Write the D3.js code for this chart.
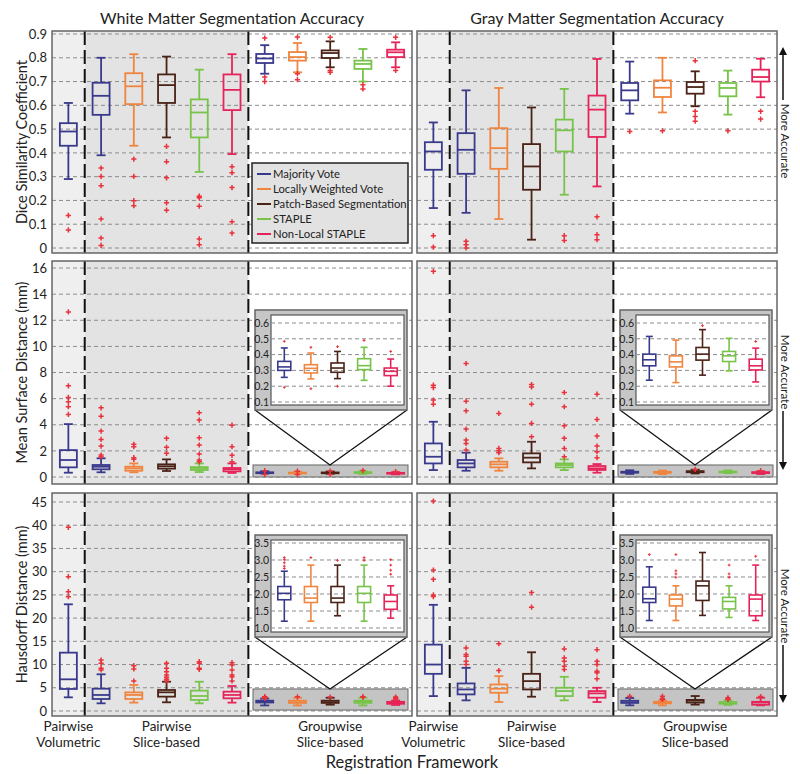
<!DOCTYPE html>
<html><head><meta charset="utf-8">
<script src="https://cdn.jsdelivr.net/npm/d3@7"></script>
<style>body{margin:0;background:#fff}svg{display:block}text{font-family:Lato,"Open Sans",sans-serif;fill:#222}</style>
</head><body><svg id="c" width="800" height="774"></svg>
<script>
// ---------- DATA ----------
const methods = ["Majority Vote","Locally Weighted Vote","Patch-Based Segmentation","STAPLE","Non-Local STAPLE"];
const tissues = ["White Matter Segmentation Accuracy","Gray Matter Segmentation Accuracy"];
const frameworks = [["Pairwise","Volumetric"],["Pairwise","Slice-based"],["Groupwise","Slice-based"]];
const metricTitles = ["Dice Similarity Coefficient","Mean Surface Distance (mm)","Hausdorff Distance (mm)"];
const xAxisTitle = "Registration Framework";
const accuracyLabel = "More Accurate";
// slot -> method index (slot 0: pairwise volumetric, 1-5 pairwise slice, 6-10 groupwise slice)
const slotMethod = [0,0,1,2,3,4,0,1,2,3,4];
// box stats: [lowWhisker, q1, median, q3, highWhisker]
const diceWM = [[0.29,0.43,0.49,0.525,0.61],[0.39,0.56,0.64,0.695,0.80],[0.43,0.605,0.68,0.735,0.815],[0.465,0.61,0.685,0.73,0.805],[0.32,0.465,0.57,0.625,0.75],[0.395,0.58,0.665,0.73,0.815],
  [0.733,0.778,0.797,0.816,0.853],[0.739,0.788,0.803,0.824,0.862],[0.76,0.799,0.82,0.831,0.869],[0.70,0.753,0.774,0.788,0.837],[0.76,0.803,0.823,0.834,0.865]];
const diceWMOut = [[0.137,0.076],[0.336,0.301,0.262,0.122,0.042,0.011],[0.374,0.301,0.199,0.178],[0.427,0.363,0.295,0.19,0.159],[0.218,0.211,0.176,0.038,0.014],[0.342,0.317,0.254,0.11,0.063],
  [0.883,0.719,0.70],[0.887,0.733,0.708],[0.886,0.746,0.739],[0.687,0.669],[0.886,0.747]];
const diceGM = [[0.168,0.329,0.406,0.445,0.528],[0.148,0.312,0.413,0.483,0.663],[0.122,0.333,0.42,0.504,0.673],[0.035,0.245,0.343,0.437,0.591],[0.224,0.406,0.495,0.54,0.669],[0.259,0.467,0.582,0.641,0.795],
  [0.565,0.621,0.663,0.694,0.784],[0.57,0.635,0.674,0.705,0.80],[0.596,0.649,0.677,0.698,0.743],[0.561,0.638,0.673,0.694,0.746],[0.634,0.70,0.719,0.75,0.796]];
const diceGMOut = [[0.052,0.004],[0.028,0.014,0.0],[],[],[0.052,0.032],[0.131,0.056,0.035],
  [0.49],[0.493],[0.788,0.575,0.553,0.533],[0.493],[0.575,0.542]];
const msdWM = [[0.33,0.74,1.3,2.06,4.05],[0.36,0.59,0.79,0.92,1.43],[0.36,0.48,0.66,0.79,1.04],[0.46,0.64,0.82,0.97,1.35],[0.38,0.54,0.69,0.76,1.04],[0.31,0.43,0.59,0.69,1.04],
  [0.256,0.30,0.322,0.357,0.442],[0.246,0.284,0.313,0.336,0.41],[0.248,0.288,0.315,0.347,0.42],[0.237,0.305,0.33,0.374,0.446],[0.2,0.267,0.294,0.315,0.372]];
const msdWMOut = [[12.64,6.98,6.09,5.76,5.38,4.79],[5.3,4.66,3.52,2.88,2.37,1.68,1.55],[2.5,2.32,1.48,1.35],[2.96,2.27,1.81],[4.92,4.36,3.0,2.45,1.76,1.3,1.17],[3.97,2.32,1.66,1.17],
  [0.484,0.193],[0.446,0.184],[0.45,0.2],[0.49],[0.42]];
const msdGM = [[0.53,1.04,1.55,2.57,4.23],[0.48,0.74,1.04,1.3,1.86],[0.48,0.74,0.97,1.17,1.43],[0.66,1.12,1.48,1.81,2.70],[0.53,0.74,0.92,1.04,1.35],[0.33,0.54,0.66,0.84,0.99],
  [0.238,0.329,0.367,0.403,0.515],[0.223,0.322,0.354,0.392,0.492],[0.27,0.365,0.403,0.445,0.558],[0.297,0.356,0.392,0.42,0.503],[0.227,0.303,0.329,0.371,0.441]];
const msdGMOut = [[15.75,7.03,6.85,5.89,5.58],[8.69,5.81,5.07,3.67,2.83,2.57,2.06],[4.87,2.19,2.01,1.86],[7.08,6.9,5.58,4.1,3.08],[6.47,5.38,3.92,2.96,2.19,1.55],[6.34,4.41,3.13,2.37,1.94,1.48],
  [],[],[0.583],[],[0.483]];
const hdWM = [[2.94,4.74,6.82,12.56,22.97],[1.65,2.58,3.45,4.8,7.9],[1.8,2.58,3.45,4.0,5.6],[1.87,3.09,4.02,4.52,6.3],[1.65,2.37,3.23,4.38,6.3],[1.8,2.73,3.45,4.16,5.38],
  [1.2,1.83,2.02,2.22,2.67],[1.2,1.75,1.88,2.22,2.85],[1.36,1.75,1.88,2.22,2.85],[1.2,1.75,2.02,2.22,2.85],[1.29,1.55,1.78,1.97,2.24]];
const hdWMOut = [[39.55,28.93,25.7,24.6],[10.98,10.27,9.19,8.83],[9.76,9.05,6.46],[10.27,9.19,8.47,7.75,7.25,6.82,6.46],[10.62,10.27,9.19,8.97],[10.41,9.91,8.83,7.75,7.39,6.46],
  [3.07,3.01,2.92,2.82,2.75],[3.07],[2.99],[3.07,2.99],[3.01,2.85,2.7,2.58]];
const hdGM = [[3.21,8.0,10.0,14.29,22.86],[2.29,3.57,4.64,5.93,9.29],[1.93,3.93,4.79,5.71,7.5],[3.07,4.64,6.43,8.0,12.64],[2.29,3.21,4.29,5.0,7.36],[1.93,2.86,3.79,4.29,5.0],
  [1.22,1.75,1.86,2.20,2.80],[1.22,1.65,1.85,1.97,2.24],[1.37,1.81,2.24,2.38,3.22],[1.31,1.56,1.78,1.90,2.24],[1.22,1.36,1.85,1.97,2.85]];
const hdGMOut = [[45.2,30.36,28.36,25.0,24.64],[13.57,12.14,11.79,10.71,10.0],[14.5,8.71],[25.5,22.36],[13.36,11.43,10.71,9.64,8.93],[13.2,10.71,10.0,8.57,8.21,6.93],
  [3.16],[3.16,2.68,2.59,2.49],[],[2.85,2.59,2.49],[3.11]];
const diceTicks = [0,0.1,0.2,0.3,0.4,0.5,0.6,0.7,0.8,0.9];
const msdTicks = [0,2,4,6,8,10,12,14,16];
const hdTicks = [0,5,10,15,20,25,30,35,40,45];
const msdInsetTicks = [0.1,0.2,0.3,0.4,0.5,0.6];
const hdInsetTicks = [1.0,1.5,2.0,2.5,3.0,3.5];

// ---------- STYLE / LAYOUT ----------
const colors = ["#3a3a8c","#f0853f","#4a2216","#78c44a","#e6245a"];
const outColor = "#e8323c";
const panelX = [[52,412],[417,777]];
const rows = [
  {top:31,bottom:253,domain:[-0.021,0.9126],ticks:diceTicks,fmt:v=>v===0?"0":v.toFixed(1),
   data:[diceWM,diceGM],out:[diceWMOut,diceGMOut],arrow:"up",textC:141,arrowY:[100,47]},
  {top:261,bottom:484,domain:[-0.536,16.54],ticks:msdTicks,fmt:v=>String(v),
   data:[msdWM,msdGM],out:[msdWMOut,msdGMOut],arrow:"down",textC:372,arrowY:[411,470],
   inset:{outer:[310,410],inner:[315,405],domain:[0.081,0.6506],ticks:msdInsetTicks,band:[0,0.92]}},
  {top:493,bottom:716,domain:[-1.08,46.94],ticks:hdTicks,fmt:v=>String(v),
   data:[hdWM,hdGM],out:[hdWMOut,hdGMOut],arrow:"down",textC:606,arrowY:[645,703],
   inset:{outer:[535,637],inner:[540,632],domain:[0.882,3.588],ticks:hdInsetTicks,band:[0.2,4.74]}}
];

const svg = d3.select("#c");

function plus(g, cx, cy, s, sw){
  g.append("path").attr("d",`M${cx-s},${cy}H${cx+s}M${cx},${cy-s}V${cy+s}`)
   .attr("stroke",outColor).attr("stroke-width",sw).attr("fill","none");
}
function box(g, cx, y, st, w, cw, color, sw){
  const [lo,q1,md,q3,hi] = st;
  const gg = g.append("g").attr("stroke",color).attr("stroke-width",sw).attr("fill","none");
  gg.append("line").attr("x1",cx).attr("x2",cx).attr("y1",y(hi)).attr("y2",y(q3));
  gg.append("line").attr("x1",cx).attr("x2",cx).attr("y1",y(q1)).attr("y2",y(lo));
  gg.append("line").attr("x1",cx-cw/2).attr("x2",cx+cw/2).attr("y1",y(hi)).attr("y2",y(hi));
  gg.append("line").attr("x1",cx-cw/2).attr("x2",cx+cw/2).attr("y1",y(lo)).attr("y2",y(lo));
  gg.append("rect").attr("x",cx-w/2).attr("width",w).attr("y",y(q3)).attr("height",Math.max(0.8,y(q1)-y(q3)));
  gg.append("line").attr("x1",cx-w/2).attr("x2",cx+w/2).attr("y1",y(md)).attr("y2",y(md));
}

rows.forEach((row,ri)=>{
  panelX.forEach((px,pi)=>{
    const g = svg.append("g");
    const x = d3.scaleBand().domain(d3.range(11)).range(px);
    const cx = i => x(i)+x.bandwidth()/2;
    const y = d3.scaleLinear().domain(row.domain).range([row.bottom,row.top]);
    // region backgrounds
    g.append("rect").attr("x",x(0)).attr("width",x.bandwidth()).attr("y",row.top).attr("height",row.bottom-row.top).attr("fill","#efefef");
    g.append("rect").attr("x",x(1)).attr("width",x(6)-x(1)).attr("y",row.top).attr("height",row.bottom-row.top).attr("fill","#e3e3e3");
    // grid
    g.selectAll(".grid").data(row.ticks).join("line")
      .attr("x1",px[0]).attr("x2",px[1]).attr("y1",d=>y(d)).attr("y2",d=>y(d))
      .attr("stroke","#8c8c8c").attr("stroke-width",1).attr("stroke-dasharray","4,3");
    if(pi===0){
      const ax = d3.axisLeft(y).tickValues(row.ticks).tickFormat(row.fmt).tickSize(0).tickPadding(5);
      const ag = g.append("g").attr("transform",`translate(${px[0]},0)`).call(ax);
      ag.select(".domain").remove();
      ag.selectAll("text").attr("font-size",13).attr("fill","#222").style("font-family","Lato,'Open Sans',sans-serif");
    }
    // separators
    [1,6].forEach(k=>{
      g.append("line").attr("x1",x(k)).attr("x2",x(k)).attr("y1",row.top).attr("y2",row.bottom)
       .attr("stroke","#111").attr("stroke-width",2).attr("stroke-dasharray","14,5");
    });
    const data = row.data[pi], outs = row.out[pi];
    // band for groupwise
    if(row.inset){
      const b = row.inset.band;
      g.append("rect").attr("x",px[0]+201).attr("width",155).attr("y",y(b[1])).attr("height",y(b[0])-y(b[1]))
       .attr("fill","#c4c4c4").attr("stroke","#666").attr("stroke-width",1);
    }
    data.forEach((st,i)=>{
      box(g, cx(i), y, st, 17, 9, colors[slotMethod[i]], 1.8);
      outs[i].forEach(v=>plus(g, cx(i), y(v), 2.6, 1.5));
    });
    if(row.inset){
      const ins = row.inset;
      const ox0 = px[0]+203, ox1 = px[0]+355, ix0 = px[0]+219, ix1 = px[0]+352;
      const apexX = px[0]+278, apexY = y(ins.band[1]);
      g.append("path").attr("d",`M${ox0},${ins.outer[1]}L${apexX},${apexY}L${ox1},${ins.outer[1]}`)
       .attr("fill","none").attr("stroke","#111").attr("stroke-width",1.3);
      g.append("rect").attr("x",ox0).attr("width",ox1-ox0).attr("y",ins.outer[0]).attr("height",ins.outer[1]-ins.outer[0])
       .attr("fill","#c6c6c6").attr("stroke","#666").attr("stroke-width",1.5);
      g.append("rect").attr("x",ix0).attr("width",ix1-ix0).attr("y",ins.inner[0]).attr("height",ins.inner[1]-ins.inner[0])
       .attr("fill","#fff").attr("stroke","#555").attr("stroke-width",1.2);
      const iy = d3.scaleLinear().domain(ins.domain).range([ins.inner[1],ins.inner[0]]);
      const ixs = d3.scaleBand().domain(d3.range(5)).range([ix0,ix1]);
      g.selectAll(".igrid").data(ins.ticks).join("line")
        .attr("x1",ix0).attr("x2",ix1).attr("y1",d=>iy(d)).attr("y2",d=>iy(d))
        .attr("stroke","#8c8c8c").attr("stroke-width",1).attr("stroke-dasharray","4,3");
      const iax = d3.axisLeft(iy).tickValues(ins.ticks).tickFormat(d3.format(".1f")).tickSize(0).tickPadding(2);
      const iag = g.append("g").attr("transform",`translate(${ix0},0)`).call(iax);
      iag.select(".domain").remove();
      iag.selectAll("text").attr("font-size",10.5).attr("fill","#333").style("font-family","Lato,'Open Sans',sans-serif");
      for(let k=0;k<5;k++){
        const i = 6+k, c = ixs(k)+ixs.bandwidth()/2;
        box(g, c, iy, data[i], 13, 7, colors[k], 1.6);
        outs[i].forEach(v=>plus(g, c, iy(v), 1.4, 1));
      }
    }
    // frame
    g.append("rect").attr("x",px[0]).attr("width",px[1]-px[0]).attr("y",row.top).attr("height",row.bottom-row.top)
     .attr("fill","none").attr("stroke","#666").attr("stroke-width",1.5);
    // framework labels
    if(ri===2){
      [[0],[3],[8]].forEach(([k],fi)=>{
        const t = svg.append("text").attr("text-anchor","middle").attr("font-size",13.5);
        frameworks[fi].forEach((ln,li)=>t.append("tspan").attr("x",cx(k)).attr("y",731+li*15.5).text(ln));
      });
    }
  });
  // y title
  svg.append("text").attr("transform",`translate(27,${(row.top+row.bottom)/2}) rotate(-90)`)
    .attr("text-anchor","middle").attr("font-size",14.5).text(metricTitles[ri]);
  // More Accurate
  svg.append("text").attr("transform",`translate(784,${row.textC}) rotate(90)`)
    .attr("text-anchor","middle").attr("dominant-baseline","middle").attr("font-size",11.5).text(accuracyLabel);
  const [a0,a1] = row.arrowY, dir = a1<a0?-1:1;
  svg.append("line").attr("x1",783).attr("x2",783).attr("y1",a0).attr("y2",a1-dir*6).attr("stroke","#111").attr("stroke-width",1.5);
  svg.append("path").attr("d",`M${779},${a1-dir*8}L${783},${a1}L${787},${a1-dir*8}Z`).attr("fill","#111");
});

// titles
tissues.forEach((t,i)=>{
  svg.append("text").attr("x",(panelX[i][0]+panelX[i][1])/2).attr("y",24).attr("text-anchor","middle").attr("font-size",16).text(t);
});
svg.append("text").attr("x",412).attr("y",768).attr("text-anchor","middle").attr("font-size",16.5).text(xAxisTitle);

// legend
const lg = svg.append("g");
lg.append("rect").attr("x",252).attr("y",163).attr("width",156).attr("height",80).attr("fill","#e2e2e2").attr("stroke","#222").attr("stroke-width",1.5);
methods.forEach((m,i)=>{
  const yy = 174+15*i;
  lg.append("line").attr("x1",257).attr("x2",271).attr("y1",yy).attr("y2",yy).attr("stroke",colors[i]).attr("stroke-width",2);
  lg.append("text").attr("x",273).attr("y",yy).attr("dy","0.35em").attr("font-size",11.3).text(m);
});
</script></body></html>
